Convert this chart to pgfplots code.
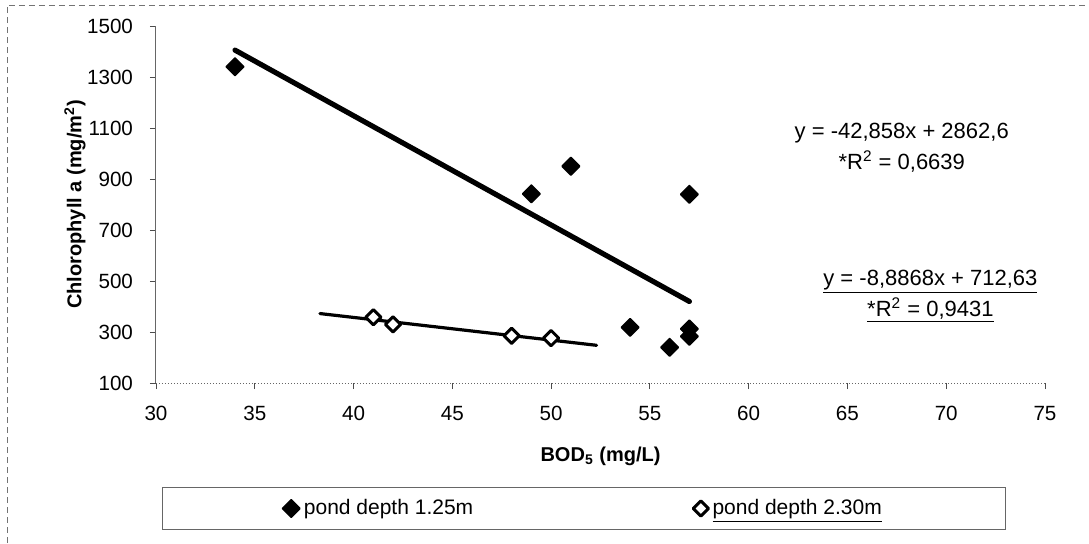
\documentclass[border=0pt]{standalone}
\usepackage{fontspec}
\setmainfont{Liberation Sans}
\usepackage{pgfplots}
\pgfplotsset{compat=1.18}

% data
\pgfplotstableread{
x y
34 1340
49 842
51 950
54 318
56 240
57 840
57 312
57 283
}\shallow
\pgfplotstableread{
x y
41 358
42 330
48 285
50 276
}\deep

\begin{document}
\begin{tikzpicture}
% 1 px of the reference = 0.5pt, origin at the axis corner
\useasboundingbox (-78pt,-80pt) rectangle (466.5pt,191.5pt);
\draw[black!55, densely dashed, line width=0.4pt] (-74.5pt,-80pt) -- (-74.5pt,189pt) -- (466.5pt,189pt);
\begin{axis}[
  scale only axis,
  width=444.5pt, height=178.5pt,
  xmin=30, xmax=75, ymin=100, ymax=1500,
  axis x line=bottom, axis y line=left,
  axis line style={black!60, line width=0.5pt, -},
  x axis line style={densely dotted},
  xtick={30,35,...,75},
  ytick={100,300,...,1500},
  tick align=outside,
  major tick length=3pt,
  tick style={black!70, line width=0.4pt},
  /pgf/number format/assume math mode=true,
  /pgf/number format/set thousands separator={},
  tick label style={font=\fontsize{10.3}{12}\selectfont},
  xticklabel style={yshift=-5pt},
  yticklabel style={xshift=-5pt},
  xlabel={\textbf{BOD\textsubscript{5} (mg/L)}},
  ylabel={\textbf{Chlorophyll a (mg/m\textsuperscript{2})}},
  label style={font=\fontsize{10}{12}\selectfont},
  x label style={at={(axis description cs:0.5,-0.205)}, anchor=center},
  y label style={at={(axis description cs:-0.091,0.5)}, anchor=center},
  clip=false,
  legend columns=2,
  legend style={
    at={(axis description cs:0.00675,-0.2913)}, anchor=north west,
    draw=black!60, line width=0.4pt,
    font=\fontsize{10.5}{12}\selectfont,
    inner xsep=60pt, inner ysep=4pt,
    /tikz/every even column/.append style={column sep=108pt},
  },
  legend image code/.code={
    \draw[mark repeat=2, mark phase=2] plot coordinates {(0pt,0pt) (3.5pt,0pt) (7pt,0pt)};
  },
]
\addplot[only marks, mark=square*, mark size=3.1pt,
  mark options={rotate=45, fill=black, draw=black, line join=round, line width=0.8pt}]
  table {\shallow};
\addlegendentry{pond depth 1.25m}
\addplot[only marks, mark=square*, mark size=2.7pt,
  mark options={rotate=45, fill=white, draw=black, line join=round, line width=1.5pt}]
  table {\deep};
\addlegendentry{\underline{pond depth 2.30m}\hspace{22pt}}

% linear trend lines, end points from the printed equations
\addplot[black, line width=2.6pt, line cap=round, forget plot] coordinates {(34,1405.4) (57,419.7)};
\addplot[black, line width=1.6pt, line cap=round, forget plot] coordinates {(38.3,372.3) (52.3,247.8)};

\node[font=\fontsize{11}{13}\selectfont] at (axis cs:67.75,1080) {y = -42,858x + 2862,6};
\node[font=\fontsize{11}{13}\selectfont] at (axis cs:67.75,967) {*R\textsuperscript{2} = 0,6639};
\node[font=\fontsize{11}{13}\selectfont] at (axis cs:69.2,496) {\underline{y = -8,8868x + 712,63}};
\node[font=\fontsize{11}{13}\selectfont] at (axis cs:69.2,386) {\underline{*R\textsuperscript{2} = 0,9431}};
\end{axis}
\end{tikzpicture}
\end{document}
